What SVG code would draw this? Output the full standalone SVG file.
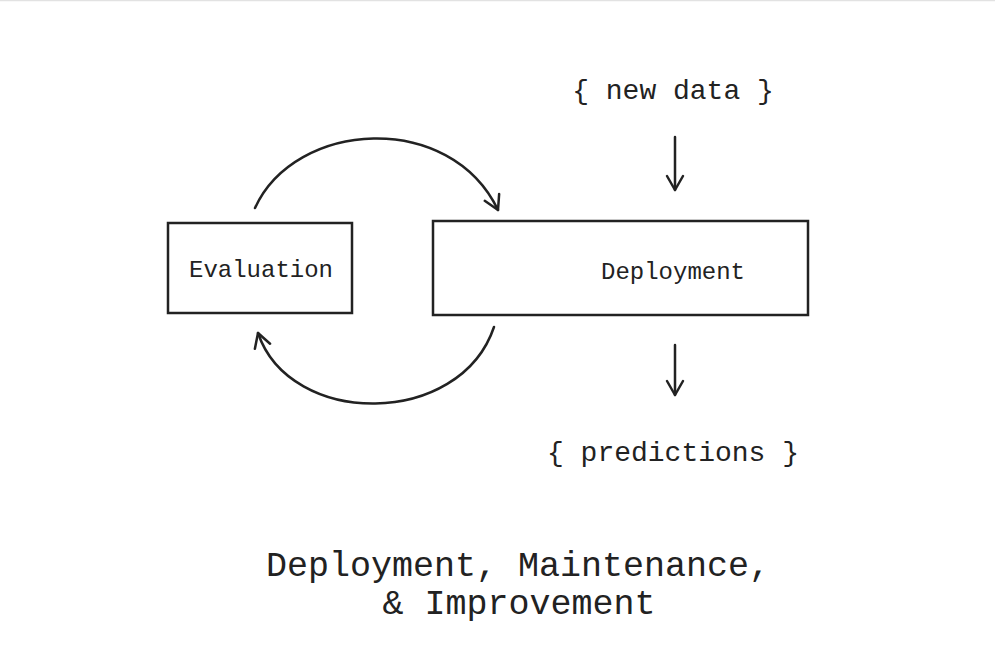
<svg xmlns="http://www.w3.org/2000/svg" width="995" height="670" viewBox="0 0 995 670">
<defs>
<style>
.box{fill:#fff;stroke:#222;stroke-width:2.5}
.t{font-family:"Liberation Mono",monospace;fill:#222;text-anchor:middle}
.c{fill:none;stroke:#222;stroke-width:2.5;stroke-linecap:round}
</style>
<marker id="ah" viewBox="-16 -10 20 20" markerWidth="20" markerHeight="20" refX="0" refY="0" orient="auto" markerUnits="userSpaceOnUse">
<path d="M-14,-8 L0,0 L-14,8" fill="none" stroke="#222" stroke-width="2.5" stroke-linecap="round" stroke-linejoin="round"/>
</marker>
</defs>
<rect width="995" height="670" fill="#fff"/>
<line x1="0" y1="0.5" x2="995" y2="0.5" stroke="#e2e2e2" stroke-width="1.5"/>
<g id="evaluation">
<rect class="box" x="168" y="223" width="184" height="90"/>
<text class="t" x="261" y="277" font-size="24">Evaluation</text>
</g>
<g id="deployment">
<rect class="box" x="433" y="221" width="375" height="94"/>
<text class="t" x="673" y="279" font-size="24">Deployment</text>
</g>
<g id="new-data">
<text class="t" x="673" y="99" font-size="28">{ new data }</text>
</g>
<g id="predictions">
<text class="t" x="673" y="461" font-size="28">{ predictions }</text>
</g>
<g id="title">
<text class="t" x="518" y="576" font-size="35">Deployment, Maintenance,</text>
<text class="t" x="519" y="614" font-size="35">&amp; Improvement</text>
</g>
<g id="connectors">
<path class="c" d="M255,208 C295,120 450,110 498,210" marker-end="url(#ah)"/>
<path class="c" d="M494,327 C460,428 290,428 258,333" marker-end="url(#ah)"/>
<path class="c" d="M675,137 L675,190" marker-end="url(#ah)"/>
<path class="c" d="M675,345 L675,395" marker-end="url(#ah)"/>
</g>
</svg>
